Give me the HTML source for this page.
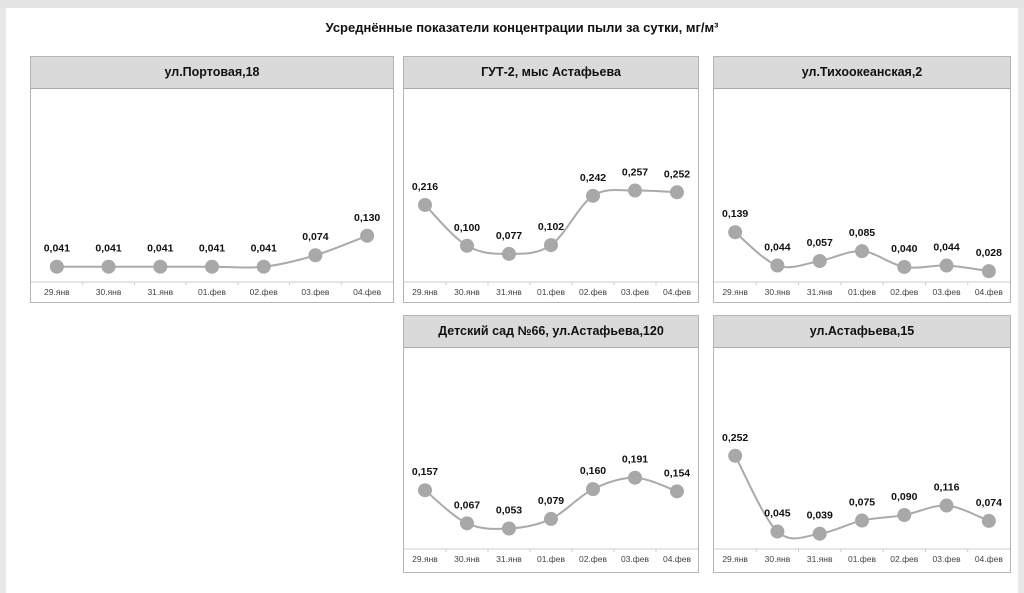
<!DOCTYPE html>
<html><head><meta charset="utf-8"><style>
body{margin:0;width:1024px;height:593px;background:#e9e9e9;overflow:hidden;font-family:"Liberation Sans",Arial,sans-serif}
#page{position:absolute;left:6px;top:8px;width:1012px;height:585px;background:#fff}
h1{position:absolute;left:0;top:20px;width:1044px;margin:0;text-align:center;font-size:13px;font-weight:bold;color:#111}
.p{position:absolute;border:1px solid #b5b5b5;background:#fff;box-sizing:border-box}
.hd{height:31px;background:#dadada;border-bottom:1px solid #aaa;text-align:center;line-height:31px;font-size:12.5px;font-weight:bold;color:#111}
svg{position:absolute;left:0;top:0}
</style></head><body>
<div style="position:absolute;left:0;top:0;width:1024px;height:8px;background:#e4e4e4"></div>
<div id="page"></div>
<h1>Усреднённые показатели концентрации пыли за сутки, мг/м³</h1>
<div id="c"></div>
<script>
const P=[
 {t:"ул.Портовая,18",x:30,y:56,w:364,h:247,ax:225,v:[.041,.041,.041,.041,.041,.074,.130],k:348},
 {t:"ГУТ-2, мыс Астафьева",x:403,y:56,w:296,h:247,ax:225,v:[.216,.100,.077,.102,.242,.257,.252],k:352},
 {t:"ул.Тихоокеанская,2",x:713,y:56,w:298,h:247,ax:225,v:[.139,.044,.057,.085,.040,.044,.028],k:351},
 {t:"Детский сад №66, ул.Астафьева,120",x:403,y:315,w:296,h:258,ax:233,v:[.157,.067,.053,.079,.160,.191,.154],k:368},
 {t:"ул.Астафьева,15",x:713,y:315,w:298,h:258,ax:233,v:[.252,.045,.039,.075,.090,.116,.074],k:366}];
const L=["29.янв","30.янв","31.янв","01.фев","02.фев","03.фев","04.фев"];
let html="";
for(const p of P){
 const ax=p.ax, zero=ax-1, cw=(p.w-2)/7;
 const pts=p.v.map((v,i)=>[cw*(i+.5),zero-v*p.k]);
 let d=`M${pts[0][0]},${pts[0][1]}`;
 for(let i=0;i<6;i++){const a=pts[Math.max(i-1,0)],b=pts[i],c=pts[i+1],e=pts[Math.min(i+2,6)];
  d+=` C${b[0]+(c[0]-a[0])/6},${b[1]+(c[1]-a[1])/6} ${c[0]-(e[0]-b[0])/6},${c[1]-(e[1]-b[1])/6} ${c[0]},${c[1]}`;}
 let s=`<svg width="${p.w-2}" height="${p.h-2}"><path d="${d}" fill="none" stroke="#aaa" stroke-width="2"/>`;
 s+=`<line x1="0" x2="${p.w}" y1="${ax}" y2="${ax}" stroke="#ccc"/>`;
 for(let i=0;i<7;i++){const [x,y]=pts[i];
  s+=`<circle cx="${x}" cy="${y}" r="7" fill="#a8a8a8"/><text x="${x}" y="${y-15}" font-size="10.5" font-weight="bold" text-anchor="middle" fill="#111">${p.v[i].toFixed(3).replace('.',',')}</text>`;
  s+=`<text x="${x}" y="${ax+13}" font-size="8.5" text-anchor="middle" fill="#444">${L[i]}</text>`;
  if(i>0)s+=`<line x1="${cw*i}" x2="${cw*i}" y1="${ax}" y2="${ax+3}" stroke="#ccc"/>`;}
 s+="</svg>";
 html+=`<div class="p" style="left:${p.x}px;top:${p.y}px;width:${p.w}px;height:${p.h}px"><div class="hd">${p.t}</div>${s}</div>`;
}
document.getElementById("c").innerHTML=html;
</script>
</body></html>
